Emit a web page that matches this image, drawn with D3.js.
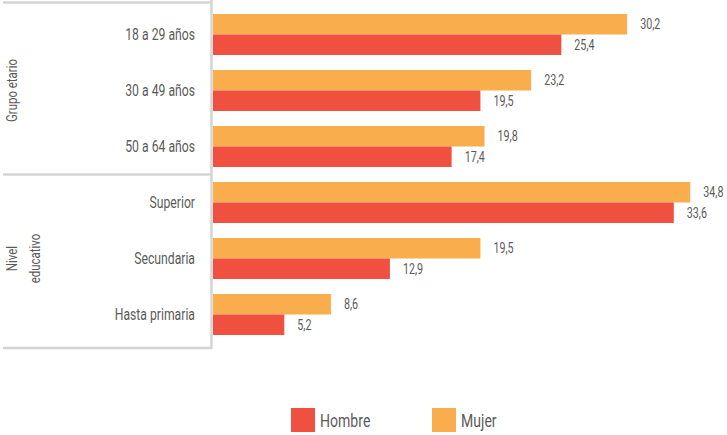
<!DOCTYPE html>
<html>
<head>
<meta charset="utf-8">
<script src="https://cdn.jsdelivr.net/npm/d3@7"></script>
<style>
  body { margin: 0; background: #fff; }
  svg text { font-family: Roboto, "Liberation Sans", sans-serif; fill: #5b5b5b; }
</style>
</head>
<body>
<svg id="chart" width="727" height="435"></svg>
<script>
const categories = ["18 a 29 años", "30 a 49 años", "50 a 64 años", "Superior", "Secundaria", "Hasta primaria"];
const hombre = [25.4, 19.5, 17.4, 33.6, 12.9, 5.2];
const mujer = [30.2, 23.2, 19.8, 34.8, 19.5, 8.6];
const groups = [
    { name: ["Grupo etario"], cats: categories.slice(0, 3) },
    { name: ["Nivel", "educativo"], cats: categories.slice(3) }
];
const series = [
    { key: "Mujer", values: mujer, color: "#F9AD4C" },
    { key: "Hombre", values: hombre, color: "#EF503F" }
];
const legendOrder = ["Hombre", "Mujer"];

const svg = d3.select("#chart");
const frame = "#d4d4d4";
const narrow = 0.74; // fake a condensed face

let x = d3.scaleLinear().domain([0, 35]).range([213, 693]);
let y = d3.scaleBand().domain(categories).range([14, 335]).paddingInner(0.268).paddingOuter(0);
let ySub = d3.scaleBand().domain(series.map(s => s.key)).range([0, y.bandwidth()]);

// frame around category labels
let sepY = (y(groups[0].cats[2]) + y.bandwidth() + y(groups[1].cats[0])) / 2;
let botY = y(groups[1].cats[2]) + y.bandwidth() + 13;
svg.append("g")
    .attr("stroke", frame)
    .attr("stroke-width", 2.5)
    .selectAll("line")
    .data([[3, 2.5, 212, 2.5], [3, sepY, 212, sepY], [3, botY, 212, botY], [211.5, 0, 211.5, botY + 1]])
    .enter()
    .append("line")
    .attr("x1", d => d[0]).attr("y1", d => d[1])
    .attr("x2", d => d[2]).attr("y2", d => d[3]);

// bars
let rows = svg.selectAll(".row")
    .data(categories)
    .enter()
    .append("g")
    .attr("class", "row")
    .attr("transform", d => "translate(0," + y(d) + ")");

series.forEach(function (s) {
    rows.append("rect")
        .attr("x", x(0))
        .attr("y", ySub(s.key))
        .attr("width", (d, i) => x(s.values[i]) - x(0))
        .attr("height", ySub.bandwidth())
        .attr("fill", s.color);

    rows.append("text")
        .attr("transform", (d, i) => "translate(" + (x(s.values[i]) + 13) + "," + (ySub(s.key) + ySub.bandwidth() / 2) + ") scale(" + narrow + ",1)")
        .attr("dy", "0.35em")
        .style("font-size", "14.5px")
        .text((d, i) => d3.format(".1f")(s.values[i]).replace(".", ","));
});

// category labels
rows.append("text")
    .attr("transform", "translate(195," + (y.bandwidth() / 2) + ") scale(" + narrow + ",1)")
    .attr("dy", "0.35em")
    .attr("text-anchor", "end")
    .style("font-size", "16.5px")
    .text(d => d);

// group labels (rotated)
groups.forEach(function (g) {
    let cy = (y(g.cats[0]) + y(g.cats[g.cats.length - 1]) + y.bandwidth()) / 2;
    let t = svg.append("text")
        .attr("transform", "translate(12," + cy + ") rotate(-90) scale(" + narrow + ",1)")
        .attr("text-anchor", "middle")
        .style("font-size", "15.5px");
    g.name.forEach(function (line, i) {
        t.append("tspan")
            .attr("x", 0)
            .attr("dy", i === 0 ? "0.35em" : "1.45em")
            .text(line);
    });
});

// legend
let legend = svg.selectAll(".legend")
    .data(legendOrder)
    .enter()
    .append("g")
    .attr("class", "legend")
    .attr("transform", (d, i) => "translate(" + (291 + i * 141) + ",408)");

legend.append("rect")
    .attr("width", 24)
    .attr("height", 24)
    .attr("fill", d => series.find(s => s.key === d).color);

legend.append("text")
    .attr("transform", "translate(29,12) scale(" + narrow + ",1)")
    .attr("dy", "0.35em")
    .style("font-size", "19px")
    .text(d => d);
</script>
</body>
</html>
